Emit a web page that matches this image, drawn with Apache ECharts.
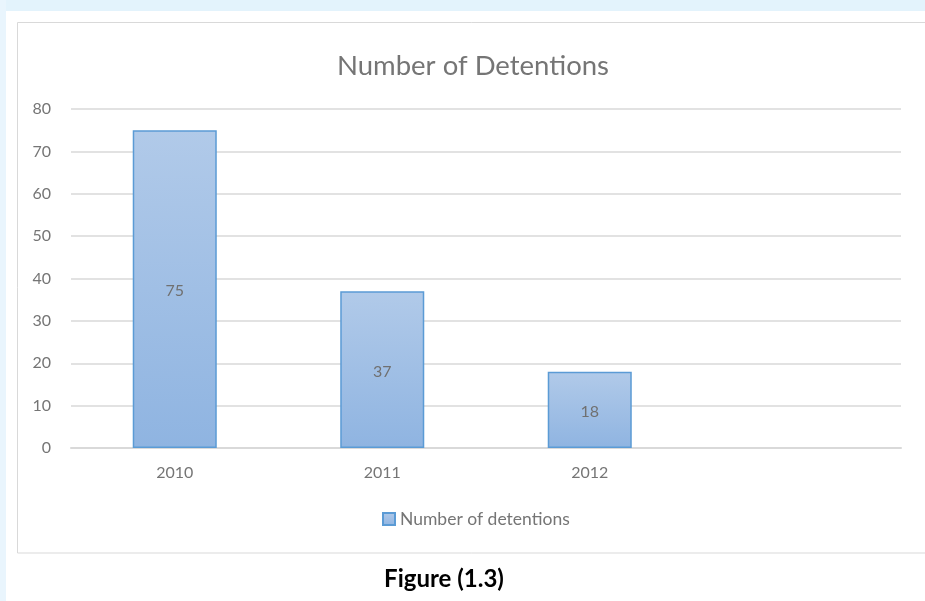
<!DOCTYPE html>
<html><head><meta charset="utf-8">
<script src="https://cdn.jsdelivr.net/npm/echarts@6/dist/echarts.min.js"></script>
<style>html,body{margin:0;padding:0;background:#fff;}#c{width:925px;height:601px;}</style>
</head><body><div id="c"></div>
<script>
const categories = ['2010', '2011', '2012', ''];
const detentions = [75, 37, 18, null];
const yTicks = [0, 10, 20, 30, 40, 50, 60, 70, 80];
const titleText = 'Number of Detentions';
const seriesName = 'Number of detentions';
const captionText = 'Figure (1.3)';

const chart = echarts.init(document.getElementById('c'), null, {renderer: 'canvas'});
const font = 'Lato, "Open Sans", sans-serif';
chart.setOption({
  backgroundColor: '#ffffff',
  animation: false,
  graphic: [
    {type: 'rect', shape: {x: 0, y: 0, width: 925, height: 11}, style: {fill: '#e3f3fc'}, z: -10},
    {type: 'rect', shape: {x: 0, y: 0, width: 6, height: 601}, style: {fill: '#e9f5fd'}, z: -10},
    {type: 'rect', shape: {x: 17.5, y: 22.5, width: 920, height: 530.5}, style: {fill: '#ffffff', stroke: '#d9d9d9', lineWidth: 1}, z: -5},
    {type: 'text', x: 444, y: 579, style: {text: captionText, font: 'bold 24px ' + font, fill: '#000000', textAlign: 'center', textVerticalAlign: 'middle'}}
  ],
  title: {
    text: titleText, left: 332, top: 47,
    textStyle: {fontFamily: font, fontSize: 27.5, fontWeight: 'normal', color: '#757575'}
  },
  legend: {
    bottom: 68, left: 377,
    itemWidth: 12, itemHeight: 12, itemGap: 5,
    icon: 'rect',
    textStyle: {fontFamily: font, fontSize: 17.5, color: '#757575'},
    data: [seriesName]
  },
  grid: {left: 71, right: 24, top: 109, bottom: 153, containLabel: false},
  xAxis: {
    type: 'category', data: categories,
    axisLine: {lineStyle: {color: '#d9d9d9', width: 2}},
    axisTick: {show: false},
    axisLabel: {fontFamily: font, fontSize: 16, color: '#757575', margin: 17}
  },
  yAxis: {
    type: 'value', min: 0, max: 80, interval: 10,
    axisLine: {show: false}, axisTick: {show: false},
    splitLine: {lineStyle: {color: '#d9d9d9', width: 1.5}},
    axisLabel: {fontFamily: font, fontSize: 16, color: '#757575', margin: 20,
      formatter: v => yTicks.includes(v) ? String(v) : ''}
  },
  series: [{
    name: seriesName, type: 'bar', data: detentions, barWidth: '40.5%',
    itemStyle: {
      color: new echarts.graphic.LinearGradient(0, 0, 0, 1, [
        {offset: 0, color: '#b1cae9'}, {offset: 1, color: '#8fb4e1'}
      ]),
      borderColor: '#5b9bd5', borderWidth: 1.5
    },
    label: {show: true, position: 'inside', fontFamily: font, fontSize: 16, color: '#707070', offset: [0, 2]}
  }]
});
</script></body></html>
